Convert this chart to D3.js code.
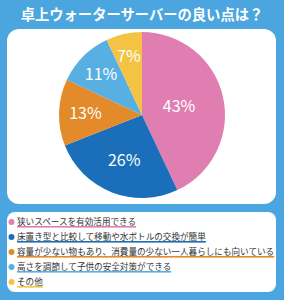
<!DOCTYPE html>
<html>
<head>
<meta charset="utf-8">
<script src="https://cdn.jsdelivr.net/npm/d3@7"></script>
<style>
  body { margin: 0; background: #4ba5de; }
  text { font-family: "Noto Sans CJK JP", "Noto Sans", sans-serif; }
</style>
</head>
<body>
<script>
const width = 284;
const height = 300;

const title = '卓上ウォーターサーバーの良い点は？';
const categories = [
  '狭いスペースを有効活用できる',
  '床置き型と比較して移動や水ボトルの交換が簡単',
  '容量が少ない物もあり、消費量の少ない一人暮らしにも向いている',
  '高さを調節して子供の安全対策ができる',
  'その他'
];
const values = [43, 26, 13, 11, 7];
const colors = ['#e17eb1', '#1b6fba', '#e38a2b', '#58afe2', '#f5c344'];

const svg = d3.select('body')
  .append('svg')
  .attr('width', width)
  .attr('height', height);

svg.append('rect')
  .attr('width', width)
  .attr('height', height)
  .attr('fill', '#4ba5de');

svg.append('text')
  .attr('x', width / 2)
  .attr('y', 20)
  .attr('text-anchor', 'middle')
  .attr('fill', '#fff')
  .attr('font-size', 14.3)
  .attr('font-weight', 'bold')
  .text(title);

// panels
svg.append('rect')
  .attr('x', 7).attr('y', 29)
  .attr('width', 269).attr('height', 175)
  .attr('rx', 12)
  .attr('fill', '#fff');

svg.append('rect')
  .attr('x', 7).attr('y', 212)
  .attr('width', 269).attr('height', 80)
  .attr('rx', 8)
  .attr('fill', '#fff');

// pie
const R = 83;
const g = svg.append('g').attr('transform', 'translate(142,115)');

const pie = d3.pie().sort(null).value(d => d);
const arc = d3.arc().innerRadius(0).outerRadius(R);
const arcs = pie(values);

g.selectAll('path')
  .data(arcs)
  .join('path')
  .attr('d', arc)
  .attr('fill', (d, i) => colors[i]);

g.selectAll('text')
  .data(arcs)
  .join('text')
  .attr('transform', d => {
    const r = R * (0.78 - 0.0075 * d.data);
    const a = (d.startAngle + d.endAngle) / 2;
    return `translate(${r * Math.sin(a)},${-r * Math.cos(a)})`;
  })
  .attr('text-anchor', 'middle')
  .attr('dy', '0.36em')
  .attr('fill', '#fff')
  .attr('font-size', 16)
  .text(d => d.data + '%');

// legend
const y = d3.scalePoint()
  .domain(d3.range(categories.length))
  .range([222, 282]);

const item = svg.selectAll('g.item')
  .data(categories)
  .join('g')
  .attr('class', 'item')
  .attr('transform', (d, i) => `translate(0,${y(i)})`);

item.append('circle')
  .attr('cx', 11.5)
  .attr('cy', 0)
  .attr('r', 3)
  .attr('fill', (d, i) => colors[i]);

item.append('text')
  .attr('x', 17)
  .attr('dy', '0.36em')
  .attr('font-size', 8.6)
  .attr('fill', '#333')
  .text(d => d)
  .each(function (d, i) {
    const w = this.getComputedTextLength();
    d3.select(this.parentNode).insert('rect', 'text')
      .attr('x', 17)
      .attr('y', 4)
      .attr('width', w)
      .attr('height', 1.6)
      .attr('fill', colors[i]);
  });
</script>
</body>
</html>
